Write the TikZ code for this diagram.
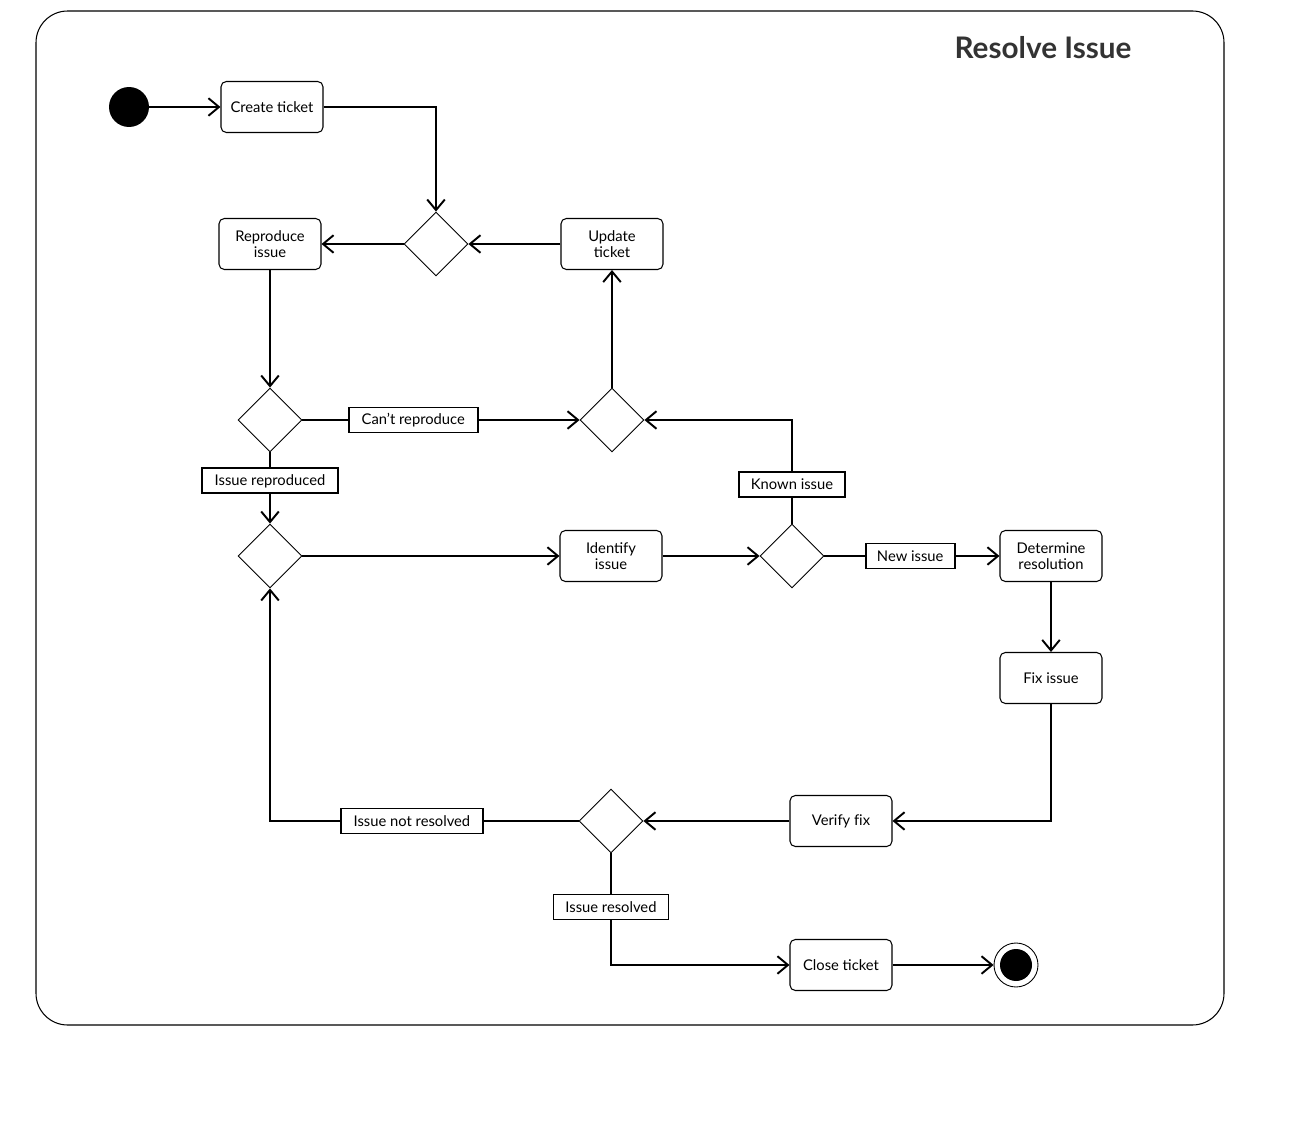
\documentclass[tikz,border=0pt]{standalone}
\usepackage{fontspec}
\setmainfont{Lato}
\usepackage{xcolor}
\definecolor{titlegrey}{RGB}{51, 51, 51}
\usetikzlibrary{arrows.meta,positioning,shapes.geometric}

\begin{document}
\begin{tikzpicture}[x=0.02cm, y=-0.02cm,
    >={Straight Barb[length=6pt,width=10pt]},
    action/.style={draw, rounded corners=3pt, line width=0.6pt, fill=white,
        minimum width=2.04cm, minimum height=1.02cm, align=center,
        font=\fontsize{8.4}{9.2}\selectfont},
    decision/.style={draw, diamond, aspect=1, inner sep=0pt, line width=0.5pt,
        minimum width=1.28cm, minimum height=1.28cm, fill=white},
    guard/.style={draw, line width=1.1pt, fill=white, inner sep=0pt,
        minimum height=0.5cm, font=\fontsize{8.4}{9.2}\selectfont},
    flow/.style={->, line width=1.1pt}]
    \useasboundingbox (0,0) rectangle (1289,1125);
    % frame and title
    \draw[line width=0.6pt, rounded corners=18pt] (36,11) rectangle (1224,1025);
    \node[font=\bfseries\fontsize{16.9}{18}\selectfont, text=titlegrey] (title) at (1043,48) {Resolve Issue};

    % start and end
    \node[circle, fill=black, minimum size=0.8cm, inner sep=0pt] (start) at (129,107) {};
    \node[circle, draw, line width=0.5pt, minimum size=0.88cm, inner sep=0pt] (finish) at (1016,965) {};
    \node[circle, fill=black, minimum size=0.64cm, inner sep=0pt] at (finish) {};

    % actions
    \node[action] (create) at (272,107) {Create ticket};
    \node[action] (reproduce) at (270,244) {Reproduce\\issue};
    \node[action] (update) at (612,244) {Update\\ticket};
    \node[action] (identify) at (611,556) {Identify\\issue};
    \node[action] (determine) at (1051,556) {Determine\\resolution};
    \node[action] (fix) at (1051,678) {Fix issue};
    \node[action] (verify) at (841,821) {Verify f\kern0pt ix};
    \node[action] (close) at (841,965) {Close ticket};

    % decisions and merges
    \node[decision] (mergeA) at (436,244) {};
    \node[decision] (canrep) at (270,420) {};
    \node[decision] (mergeB) at (612,420) {};
    \node[decision] (mergeC) at (270,556) {};
    \node[decision] (known) at (792,556) {};
    \node[decision] (resolved) at (611,821) {};

    % flows
    \draw[flow] (start) -- (create);
    \draw[flow] (create.east) -| (mergeA.north);
    \draw[flow] (update) -- (mergeA);
    \draw[flow] (mergeA) -- (reproduce);
    \draw[flow] (reproduce) -- (canrep);
    \draw[flow] (canrep) -- node[guard, pos=0.4, minimum width=2.58cm] {Can{\char"0027}t reproduce} (mergeB);
    \draw[flow] (mergeB) -- (update);
    \draw[flow] (canrep) -- node[guard, pos=0.4, minimum width=2.72cm] {Issue reproduced} (mergeC);
    \draw[flow] (mergeC) -- (identify);
    \draw[flow] (identify) -- (known);
    \draw[flow] (known.north) |- node[guard, pos=0.19, minimum width=2.12cm] {Known issue} (mergeB.east);
    \draw[flow] (known) -- node[guard, pos=0.49, minimum width=1.78cm] {New issue} (determine);
    \draw[flow] (determine) -- (fix);
    \draw[flow] (fix.south) |- (verify.east);
    \draw[flow] (verify) -- (resolved);
    \draw[flow] (resolved.west) -| node[guard, pos=0.27, minimum width=2.84cm] {Issue not resolved} (mergeC.south);
    \draw[flow] (resolved.south) |- node[guard, pos=0.24, minimum width=2.3cm] {Issue resolved} (close.west);
    \draw[flow] (close) -- (finish);
\end{tikzpicture}
\end{document}
